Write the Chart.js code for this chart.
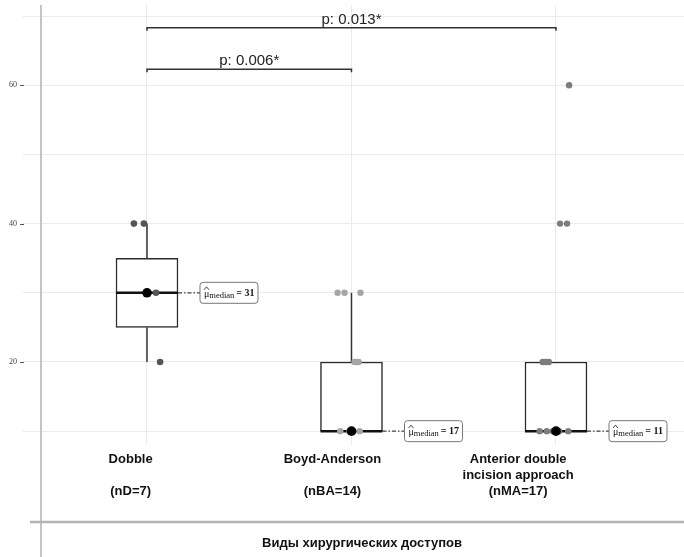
<!DOCTYPE html>
<html>
<head>
<meta charset="utf-8">
<script src="https://cdn.jsdelivr.net/npm/chart.js@4.4.0/dist/chart.umd.min.js"></script>
<style>
  html, body { margin: 0; padding: 0; background: #fff; }
  #wrap { width: 684px; height: 557px; position: relative; }
</style>
</head>
<body>
<div id="wrap"><canvas id="chart"></canvas></div>
<script>
// groups and box statistics
const groupLabels = [['Dobble', '', '(nD=7)'], ['Boyd-Anderson', '', '(nBA=14)'], ['Anterior double', 'incision approach', '(nMA=17)']];
const groupPos = [1, 2, 3];
const whiskerLow = [20, 10, 10];
const q1 = [25, 10, 10];
const median = [30, 10, 10];
const q3 = [35, 20, 20];
const whiskerHigh = [40, 30, 20];
const medianLabel = ['31', '17', '11'];

// jittered observations
const dobbleX = [0.936, 0.985, 1.003, 0.997, 1.044, 1.006, 1.064];
const dobbleY = [40, 40, 30, 30, 30, 30, 20];
const boydX = [1.932, 1.966, 2.044, 2.015, 2.035, 2.025, 1.945, 1.99, 2.0, 2.005, 2.01, 2.04, 1.995, 2.0];
const boydY = [30, 30, 30, 20, 20, 20, 10, 10, 10, 10, 10, 10, 10, 10];
const anteriorX = [3.064, 3.02, 3.054, 2.935, 2.965, 2.95, 2.92, 2.955, 3.06, 2.99, 3.0, 3.01, 3.005, 2.995, 3.0, 2.985, 3.015];
const anteriorY = [60, 40, 40, 20, 20, 20, 10, 10, 10, 10, 10, 10, 10, 10, 10, 10, 10];

// axis ticks
const yTicks = [10, 20, 30, 40, 50, 60, 70];
const yLabels = [20, 40, 60];

// pairwise comparisons
const pairs = [[1, 3], [1, 2]];
const pLabels = ['p: 0.013*', 'p: 0.006*'];
const pairLevels = [68.3, 62.3];

const xMin = 0.4768, xMax = 3.626;
const labelPos = [0.92, 1.907, 2.815]; // category text sits a bit left of the boxes

const toPts = (xs, ys) => xs.map((x, i) => ({ x: x, y: ys[i] }));

function medianTag(ctx, x, y, val) {
  const w = 58, h = 21, top = y - h / 2;
  ctx.save();
  ctx.beginPath();
  ctx.roundRect(x, top, w, h, 3);
  ctx.fillStyle = '#fff';
  ctx.fill();
  ctx.strokeStyle = '#777';
  ctx.lineWidth = 1;
  ctx.stroke();
  ctx.fillStyle = '#111';
  ctx.textBaseline = 'alphabetic';
  ctx.textAlign = 'left';
  let tx = x + 4;
  const base = y + 3;
  ctx.font = '10px "Liberation Serif"';
  ctx.fillText('\u03bc', tx, base + 1);
  ctx.strokeStyle = '#111';
  ctx.lineWidth = 0.8;
  ctx.beginPath();
  ctx.moveTo(tx, base - 6);
  ctx.lineTo(tx + 2.5, base - 9);
  ctx.lineTo(tx + 5, base - 6);
  ctx.stroke();
  tx += ctx.measureText('\u03bc').width;
  ctx.font = '8.5px "Liberation Serif"';
  ctx.fillText('median', tx, base + 2);
  tx += ctx.measureText('median').width + 2;
  ctx.font = 'bold 10px "Liberation Serif"';
  ctx.fillText('= ' + val, tx, base);
  ctx.restore();
}

const boxPlugin = {
  id: 'boxParts',
  beforeDatasetsDraw(chart) {
    const { ctx, scales: { x, y } } = chart;
    ctx.save();
    ctx.strokeStyle = '#333';
    ctx.lineWidth = 1.5;
    groupPos.forEach((g, i) => {
      const px = x.getPixelForValue(g);
      ctx.beginPath();
      ctx.moveTo(px, y.getPixelForValue(q3[i]));
      ctx.lineTo(px, y.getPixelForValue(whiskerHigh[i]));
      ctx.moveTo(px, y.getPixelForValue(q1[i]));
      ctx.lineTo(px, y.getPixelForValue(whiskerLow[i]));
      ctx.stroke();
    });
    ctx.restore();
  },
  afterDatasetDraw(chart, args) {
    if (args.index !== 0) return;
    const { ctx, scales: { x, y } } = chart;
    const half = 31;
    groupPos.forEach((g, i) => {
      const px = x.getPixelForValue(g);
      const py = y.getPixelForValue(median[i]);
      ctx.save();
      ctx.strokeStyle = '#111';
      ctx.lineWidth = 2.5;
      ctx.beginPath();
      ctx.moveTo(px - half, py);
      ctx.lineTo(px + half, py);
      ctx.stroke();
      ctx.strokeStyle = '#444';
      ctx.lineWidth = 1.2;
      ctx.setLineDash([4, 2, 1.5, 2]);
      ctx.beginPath();
      ctx.moveTo(px + half, py);
      ctx.lineTo(px + 53, py);
      ctx.stroke();
      ctx.restore();
      medianTag(ctx, px + 53, py, medianLabel[i]);
    });
  },
  afterDraw(chart) {
    const { ctx, scales: { x, y }, chartArea } = chart;
    ctx.save();
    // brackets
    ctx.strokeStyle = '#333';
    ctx.lineWidth = 1.5;
    ctx.fillStyle = '#222';
    ctx.font = '15px "Liberation Sans"';
    ctx.textAlign = 'center';
    ctx.textBaseline = 'alphabetic';
    pairs.forEach((p, i) => {
      const x1 = x.getPixelForValue(p[0]);
      const x2 = x.getPixelForValue(p[1]);
      const py = y.getPixelForValue(pairLevels[i]);
      ctx.beginPath();
      ctx.moveTo(x1, py + 3);
      ctx.lineTo(x1, py);
      ctx.lineTo(x2, py);
      ctx.lineTo(x2, py + 3);
      ctx.stroke();
      ctx.fillText(pLabels[i], (x1 + x2) / 2, py - 4);
    });
    // small dark tick marks beside labels
    ctx.strokeStyle = '#555';
    ctx.lineWidth = 1;
    yLabels.forEach(v => {
      const py = Math.round(y.getPixelForValue(v)) + 0.5;
      ctx.beginPath();
      ctx.moveTo(20, py);
      ctx.lineTo(24, py);
      ctx.stroke();
    });
    // panel frame lines
    ctx.strokeStyle = '#c4c4c4';
    ctx.lineWidth = 2;
    ctx.beginPath();
    ctx.moveTo(chartArea.left + 1, chartArea.top);
    ctx.lineTo(chartArea.left + 1, chart.height);
    ctx.stroke();
    ctx.strokeStyle = '#b4b4b4';
    ctx.lineWidth = 2.5;
    ctx.beginPath();
    ctx.moveTo(30, 522);
    ctx.lineTo(chart.width, 522);
    ctx.stroke();
    ctx.restore();
  }
};

new Chart(document.getElementById('chart'), {
  type: 'scatter',
  data: {
    datasets: [
      {
        type: 'bar',
        data: groupPos.map((g, i) => ({ x: g, y: [q1[i], q3[i]] })),
        backgroundColor: '#fff',
        borderColor: '#2b2b2b',
        borderWidth: 1.5,
        borderSkipped: false,
        barThickness: 62,
        order: 3
      },
      { data: toPts(dobbleX, dobbleY), pointRadius: 3.3, backgroundColor: '#555', borderWidth: 0, order: 2 },
      { data: toPts(boydX, boydY), pointRadius: 3.2, backgroundColor: '#a6a6a6', borderWidth: 0, order: 2 },
      { data: toPts(anteriorX, anteriorY), pointRadius: 3.2, backgroundColor: '#7c7c7c', borderWidth: 0, order: 2 },
      { data: toPts(groupPos, median), pointRadius: 4.8, backgroundColor: '#000', borderWidth: 0, order: 1 }
    ]
  },
  options: {
    responsive: true,
    maintainAspectRatio: false,
    animation: false,
    events: [],
    layout: { autoPadding: false, padding: { top: 5, left: 0, right: 0, bottom: 0 } },
    plugins: { legend: { display: false }, tooltip: { enabled: false } },
    scales: {
      x: {
        type: 'linear', min: xMin, max: xMax, offset: false,
        grid: { color: '#ebebeb', offset: false, drawTicks: false },
        border: { display: false },
        ticks: { display: false },
        afterBuildTicks: s => { s.ticks = groupPos.map(v => ({ value: v })); },
        afterFit: s => { s.height = 0; s.paddingLeft = 0; s.paddingRight = 0; }
      },
      xLab: {
        type: 'linear', position: 'bottom', min: xMin, max: xMax, offset: false,
        grid: { display: false, drawTicks: false },
        border: { display: false },
        ticks: {
          autoSkip: false, maxRotation: 0, minRotation: 0, padding: 6,
          color: '#111',
          font: { family: '"Liberation Sans", Arial, sans-serif', size: 13, weight: 'bold', lineHeight: '16px' },
          callback: (v, i) => groupLabels[i]
        },
        afterBuildTicks: s => { s.ticks = labelPos.map(v => ({ value: v })); },
        afterFit: s => { s.height = 112; s.paddingLeft = 0; s.paddingRight = 0; },
        title: {
          display: true,
          text: 'Виды хирургических доступов',
          color: '#111',
          font: { family: '"Liberation Sans", Arial, sans-serif', size: 13, weight: 'bold' },
          padding: { top: 0, bottom: 6 }
        }
      },
      y: {
        min: 8, max: 71.6,
        grid: { color: '#ebebeb', tickLength: 17 },
        border: { display: false },
        afterBuildTicks: s => { s.ticks = yTicks.map(v => ({ value: v })); },
        ticks: {
          padding: 6,
          color: '#444',
          font: { family: '"Liberation Serif", serif', size: 8 },
          callback: v => (yLabels.includes(v) ? String(v) : '')
        },
        afterFit: s => { s.width = 40; s.paddingTop = 0; s.paddingBottom = 0; }
      }
    }
  },
  plugins: [boxPlugin]
});
</script>
</body>
</html>
